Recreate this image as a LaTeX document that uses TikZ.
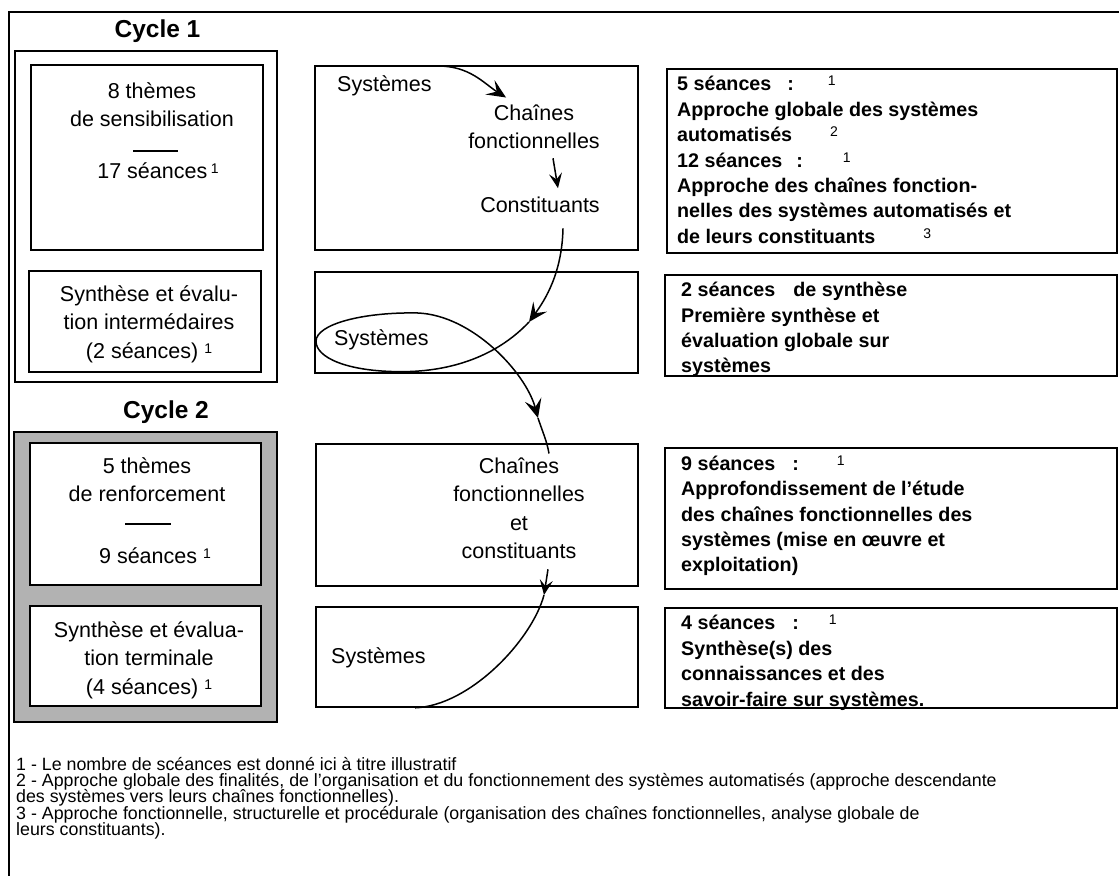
\documentclass[tikz,border=0pt]{standalone}
\usepackage{fontspec}
\setmainfont{Liberation Sans}
\usetikzlibrary{arrows.meta,calc}
\newcommand{\expo}[1]{\raisebox{5pt}{\fontsize{14}{14}\selectfont\mdseries #1}}
\newcommand{\footfont}{\fontsize{17.8}{16.3}\selectfont\setlength{\lineskiplimit}{-20pt}}

\begin{document}
\begin{tikzpicture}[x=1pt,y=-1pt,
  box/.style={draw,line width=1.6pt,inner sep=0pt,fill=white},
  lab/.style={font=\fontsize{21.5}{28.5}\selectfont,align=center,inner sep=0pt},
  notetext/.style={font=\fontsize{19.7}{25.4}\selectfont\bfseries,align=left,anchor=north west,inner sep=0pt},
  cycletitle/.style={font=\fontsize{24.5}{28}\selectfont\bfseries,inner sep=0pt,anchor=base},
  foot/.style={font=\footfont,align=left,anchor=north west,inner sep=0pt},
  flow/.style={line width=1.5pt,-{Stealth[length=19pt,width=17pt,inset=8pt]}},
  shortflow/.style={line width=1.5pt,-{Stealth[length=15pt,width=13pt,inset=6pt]}},
  loop/.style={line width=1.5pt}]
  \useasboundingbox (0,0) rectangle (1119,876);
  % page frame
  \coordinate (tl) at (9,12);
  \draw[line width=1.5pt] (1119,12) -- (tl) -- (9,876);

  % cycle frames
  \node[cycletitle] (cyc1t) at (157.5,37) {Cycle 1};
  \node[box,minimum width=262,minimum height=331] (cyc1) at (146,216.5) {};
  \node[cycletitle] (cyc2t) at (166,418) {Cycle 2};
  \node[box,fill=black!30,minimum width=263,minimum height=290] (cyc2) at (145.5,577) {};

  % left column
  \node[box,minimum width=232,minimum height=185] (them1) at (147,157.5) {};
  \node[box,minimum width=232,minimum height=101] (synt1) at (145,321.5) {};
  \node[box,minimum width=231,minimum height=142] (them2) at (145.5,514) {};
  \node[box,minimum width=231,minimum height=100] (synt2) at (145.5,656) {};
  \node[lab,anchor=north] (them1t) at (152,82) {8 thèmes\\de sensibilisation};
  \node[inner sep=0pt] (rule1) at (155.5,151) {\rule{45pt}{1.5pt}};
  \node[lab,anchor=base] (them1n) at (158,178) {17 séances\,\expo{1}};
  \node[lab,anchor=north] (synt1t) at (149,285) {Synthèse et évalu-\\tion intermédaires\\(2 séances)\hspace{6pt}\expo{1}};
  \node[lab,anchor=north] (them2t) at (147,457) {5 thèmes\\de renforcement};
  \node[inner sep=0pt] (rule2) at (148,524) {\rule{46pt}{1.5pt}};
  \node[lab,anchor=base] (them2n) at (155,563) {9 séances\hspace{6pt}\expo{1}};
  \node[lab,anchor=north] (synt2t) at (149,621) {Synthèse et évalua-\\tion terminale\\(4 séances)\hspace{6pt}\expo{1}};

  % middle column
  \node[box,minimum width=323,minimum height=184] (mid1) at (476.5,158) {};
  \node[box,minimum width=323,minimum height=101] (mid2) at (476.5,322.5) {};
  \node[box,minimum width=322,minimum height=142] (mid3) at (477,515) {};
  \node[box,minimum width=322,minimum height=100] (mid4) at (477,657) {};
  \node[lab,anchor=base west] (sysA) at (337,91) {Systèmes};
  \node[lab,anchor=north] (chA) at (534,104.5) {Chaînes\\fonctionnelles};
  \node[lab,anchor=base] (consA) at (540,212) {Constituants};
  \node[lab,anchor=base west] (sysB) at (334,345) {Systèmes};
  \node[lab,anchor=north] (chB) at (519,457.5) {Chaînes\\fonctionnelles\\et\\constituants};
  \node[lab,anchor=base west] (sysC) at (331,663) {Systèmes};

  % right column
  \node[box,minimum width=450,minimum height=184] (note1) at (892,161) {};
  \node[box,minimum width=452,minimum height=101] (note2) at (891,325.5) {};
  \node[box,minimum width=452,minimum height=141] (note3) at (891,518.5) {};
  \node[box,minimum width=452,minimum height=100] (note4) at (891,658) {};
  \node[notetext] (note1t) at (677,76) {5 séances\hspace{16pt}:\hspace{34pt}\expo{1}\\Approche globale des systèmes\\automatisés\hspace{38pt}\expo{2}\\12 séances\hspace{14pt}:\hspace{40pt}\expo{1}\\Approche des chaînes fonction-\\nelles des systèmes automatisés et\\de leurs constituants\hspace{48pt}\expo{3}};
  \node[notetext] (note2t) at (681,282) {2 séances\hspace{18pt}de synthèse\\Première synthèse et\\évaluation globale sur\\systèmes};
  \node[notetext] (note3t) at (681,455.5) {9 séances\hspace{17pt}:\hspace{38pt}\expo{1}\\Approfondissement de l'étude\\des chaînes fonctionnelles des\\systèmes (mise en œuvre et\\exploitation)};
  \node[notetext] (note4t) at (681,615) {4 séances\hspace{17pt}:\hspace{30pt}\expo{1}\\Synthèse(s) des\\connaissances et des\\savoir-faire sur systèmes.};

  % the path through the middle column
  \coordinate (tipC) at (529,322);
  \coordinate (tipD) at (538,418);
  \coordinate (tipE) at (544,595);
  \draw[flow] ($(sysA.north east)+(6,-9)$) .. controls +(32,0) and +(-22,-14) .. ($(chA.north)+(-28,-7)$);
  \draw[shortflow] ($(chA.south)+(19,9)$) -- ($(consA.north)+(18,-8)$);
  \draw[flow] ($(consA.south)+(23,16)$) .. controls +(-1,45) and +(16,-22) .. (tipC);
  \draw[flow] (tipC) .. controls +(-32,34) and +(50,0) .. ($(sysB.south)+(20,22)$)
    .. controls +(-55,0) and +(0,16) .. ($(sysB.west)+(-18,2)$)
    .. controls +(0,-17) and +(-55,-1) .. ($(sysB.north)+(36,-16)$)
    .. controls +(55,2) and +(-12,-45) .. (tipD);
  \draw[loop] (tipD) .. controls +(5,15) and +(-2,-12) .. ($(chB.north)+(30,-4)$);
  \draw[shortflow] ($(chB.south)+(29,10)$) -- (tipE);
  \draw[loop] (tipE) .. controls +(-12,45) and +(55,-2) .. ($(mid4.south)+(-62,0)$);

  % notes
  \node[foot] (notes) at (16,757) {1 - Le nombre de scéances est donné ici à titre illustratif\\2 - Approche globale des finalités, de l'organisation et du fonctionnement des systèmes automatisés (approche descendante\\des systèmes vers leurs chaînes fonctionnelles).\\3 - Approche fonctionnelle, structurelle et procédurale (organisation des chaînes fonctionnelles, analyse globale de\\leurs constituants).};
\end{tikzpicture}
\end{document}
